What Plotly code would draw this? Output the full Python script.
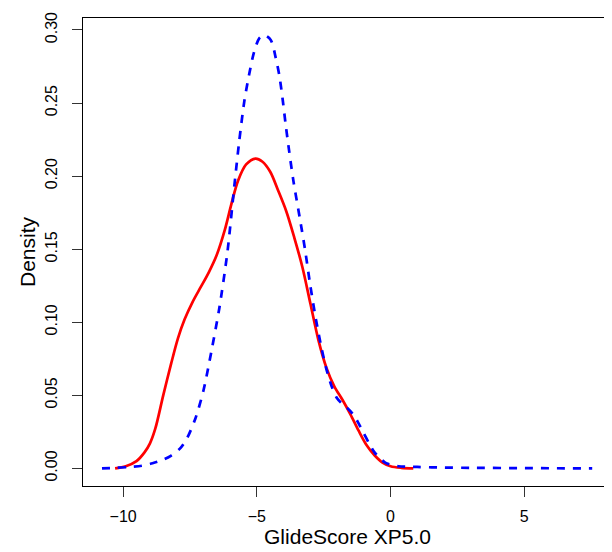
import plotly.graph_objects as go

# Red (solid) density curve
red_x = [-10.3, -9.9, -9.5, -9.2, -9.0, -8.8, -8.5, -8.2, -7.95, -7.7, -7.4, -7.1, -6.8, -6.5,
         -6.2, -5.95, -5.7, -5.4, -5.05, -4.8, -4.5, -4.2, -3.9, -3.6, -3.3, -3.0, -2.7,
         -2.4, -2.1, -1.8, -1.5, -1.2, -0.9, -0.6, -0.3, 0.0, 0.4, 0.85]
red_y = [0.0, 0.0015, 0.005, 0.011, 0.017, 0.027, 0.050, 0.072, 0.089, 0.102, 0.114, 0.124, 0.134, 0.146,
         0.163, 0.181, 0.197, 0.208, 0.212, 0.210, 0.203, 0.190, 0.176, 0.158, 0.138, 0.113, 0.088,
         0.069, 0.056, 0.047, 0.037, 0.026, 0.016, 0.009, 0.004, 0.0015, 0.0004, 0.0]

# Blue (dashed) density curve
blue_x = [-10.79, -10.3, -9.8, -9.3, -8.9, -8.5, -8.2, -7.85, -7.6, -7.3, -7.0, -6.7, -6.4,
          -6.1, -5.85, -5.66, -5.47, -5.29, -5.10, -4.91, -4.73, -4.48, -4.29, -4.16, -4.04,
          -3.92, -3.79, -3.63, -3.4, -3.2, -3.0, -2.8, -2.6, -2.4, -2.2, -2.0, -1.8, -1.6,
          -1.4, -1.2, -1.0, -0.8, -0.6, -0.4, -0.2, 0.0, 0.3, 0.6, 1.0, 2.0, 3.0, 5.0, 7.54]
blue_y = [0.0, 0.0004, 0.0009, 0.0018, 0.0035, 0.006, 0.0088, 0.014, 0.021, 0.034, 0.053, 0.080, 0.110,
          0.148, 0.1917, 0.2237, 0.251, 0.2693, 0.2852, 0.2943, 0.2965, 0.2932, 0.2807, 0.269, 0.2533,
          0.235, 0.2169, 0.1964, 0.172, 0.150, 0.125, 0.103, 0.084, 0.068, 0.056, 0.048, 0.044, 0.041,
          0.037, 0.031, 0.024, 0.017, 0.011, 0.007, 0.004, 0.0025, 0.0015, 0.0012, 0.001, 0.0006, 0.0004, 0.0002, 0.0]

x_ticks = [-10, -5, 0, 5]
x_ticklabels = ["\u221210", "\u22125", "0", "5"]
y_ticks = [0.00, 0.05, 0.10, 0.15, 0.20, 0.25, 0.30]
y_ticklabels = ["0.00", "0.05", "0.10", "0.15", "0.20", "0.25", "0.30"]

FONT = "Liberation Sans, Arial, Helvetica, sans-serif"

fig = go.Figure()
fig.add_trace(go.Scatter(x=red_x, y=red_y, mode="lines",
                         line=dict(color="#FF0000", width=2.7, shape="spline", smoothing=0.9),
                         showlegend=False, hoverinfo="skip"))
fig.add_trace(go.Scatter(x=blue_x, y=blue_y, mode="lines",
                         line=dict(color="#0000FF", width=2.7, dash="8px,8px", shape="spline", smoothing=0.8),
                         showlegend=False, hoverinfo="skip"))

fig.update_layout(
    width=612, height=552,
    margin=dict(l=75, r=8, t=10, b=74, autoexpand=False),
    paper_bgcolor="white", plot_bgcolor="white",
    font=dict(family=FONT, color="black"),
    showlegend=False,
)
fig.update_xaxes(
    range=[-11.5, 8.28], showgrid=False, zeroline=False,
    showline=True, linecolor="black", linewidth=1, mirror=True,
    ticks="outside", ticklen=10, tickcolor="#333333", tickwidth=1,
    tickvals=x_ticks, ticktext=x_ticklabels, tickfont=dict(size=16, family=FONT),
    ticklabelstandoff=6,
    title=dict(text="GlideScore XP5.0", font=dict(size=21, family=FONT), standoff=4),
    automargin=False,
)
fig.update_yaxes(
    range=[-0.01203, 0.3082], showgrid=False, zeroline=False,
    showline=True, linecolor="black", linewidth=1, mirror=True,
    ticks="outside", ticklen=10, tickcolor="#333333", tickwidth=1,
    tickvals=y_ticks, ticktext=y_ticklabels, tickangle=-90,
    tickfont=dict(size=16, family=FONT), ticklabelstandoff=9,
    title=dict(text="Density", font=dict(size=21, family=FONT), standoff=1),
    automargin=False,
)

fig.write_html("out.html")
